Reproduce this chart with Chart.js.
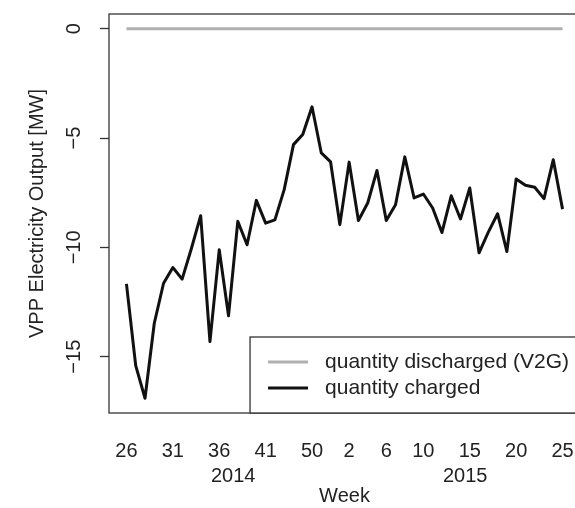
<!DOCTYPE html>
<html lang="en">
<head>
<meta charset="UTF-8">
<title>VPP Electricity Output</title>
<script src="https://cdn.jsdelivr.net/npm/chart.js"></script>
<style>
    body { margin: 0; overflow: hidden; background: #fff; }
    #wrap { width: 575px; height: 508px; overflow: hidden; }
    canvas { display: block; }
</style>
</head>
<body>
<div id="wrap"><canvas id="grafico" width="600" height="508"></canvas></div>
<script>
// week numbers, 2014 wk 26 .. 2015 wk 25 (some autumn weeks missing)
const weeks = [26, 27, 28, 29, 30, 31, 32, 33, 34, 35, 36, 37, 38, 39, 40, 41,
               42, 44, 46, 48, 50, 51, 52,
               1, 2, 3, 4, 5, 6, 7, 8, 9, 10, 11, 12, 13, 14, 15, 16, 17, 18, 19, 20, 21, 22, 23, 24, 25];
const charged = [-11.67, -15.41, -16.90, -13.47, -11.64, -10.92, -11.45, -10.05, -8.55, -14.31,
                 -10.11, -13.13, -8.81, -9.88, -7.85, -8.89, -8.74, -7.36, -5.30, -4.84,
                 -3.57, -5.68, -6.09, -8.96, -6.10, -8.77, -7.97, -6.48, -8.77, -8.05,
                 -5.86, -7.74, -7.56, -8.20, -9.32, -7.64, -8.70, -7.28, -10.25, -9.30,
                 -8.46, -10.19, -6.87, -7.16, -7.25, -7.77, -5.99, -8.25];
const discharged = [0, 0, 0, 0, 0, 0, 0, 0, 0, 0, 0, 0, 0, 0, 0, 0, 0, 0, 0, 0, 0, 0, 0, 0,
                    0, 0, 0, 0, 0, 0, 0, 0, 0, 0, 0, 0, 0, 0, 0, 0, 0, 0, 0, 0, 0, 0, 0, 0];
// which weeks get a label on the x axis (index into weeks)
const weekTicks = [0, 5, 10, 15, 20, 24, 28, 32, 37, 42, 47];
const yearLabels = ['2014', '2015'];
const yearTickAt = [11.5, 36.5];
const yTicks = [0, -5, -10, -15];

const FONT = '"Liberation Sans", Arial, sans-serif';
const txt = { family: FONT, size: 20 };

const pts = arr => arr.map((v, i) => ({ x: i, y: v }));
const n = weeks.length - 1;
const yLo = Math.min(...charged), yHi = 0;
const yPad = (yHi - yLo) * 0.04;

// box round the plot, like R
const boxPlugin = {
    id: 'box',
    afterDatasetsDraw(chart) {
        const { ctx, chartArea: a } = chart;
        ctx.save();
        ctx.strokeStyle = '#333';
        ctx.lineWidth = 1.3;
        ctx.strokeRect(a.left, a.top, a.width, a.height);
        ctx.restore();
    }
};

// legend in the bottom right corner
const legendPlugin = {
    id: 'rLegend',
    afterDraw(chart) {
        const { ctx, chartArea: a } = chart;
        const sets = chart.data.datasets;
        ctx.save();
        ctx.font = '21px ' + FONT;
        const textW = Math.max(...sets.map(d => ctx.measureText(d.label).width));
        const rowH = 26;
        const w = textW + 86, h = rowH * sets.length + 24;
        const x0 = a.right - w, y0 = a.bottom - h;
        ctx.fillStyle = '#fff';
        ctx.fillRect(x0, y0, w, h);
        ctx.strokeStyle = '#333';
        ctx.lineWidth = 1.3;
        ctx.strokeRect(x0, y0, w, h);
        sets.forEach((d, k) => {
            const y = y0 + 25 + k * rowH;
            ctx.strokeStyle = d.borderColor;
            ctx.lineWidth = d.borderWidth;
            ctx.beginPath();
            ctx.moveTo(x0 + 18, y);
            ctx.lineTo(x0 + 58, y);
            ctx.stroke();
            ctx.fillStyle = '#222';
            ctx.textBaseline = 'middle';
            ctx.fillText(d.label, x0 + 75, y);
        });
        ctx.restore();
    }
};

new Chart(document.getElementById('grafico').getContext('2d'), {
    type: 'line',
    data: {
        datasets: [{
            label: 'quantity discharged (V2G)',
            data: pts(discharged),
            borderColor: '#b0b0b0',
            borderWidth: 3,
            pointRadius: 0,
            tension: 0
        }, {
            label: 'quantity charged',
            data: pts(charged),
            borderColor: '#111',
            borderWidth: 3,
            pointRadius: 0,
            tension: 0,
            borderJoinStyle: 'round'
        }]
    },
    options: {
        responsive: false,
        animation: false,
        layout: { padding: { top: 14, right: 20, left: 0, bottom: 0 } },
        plugins: { legend: { display: false }, tooltip: { enabled: false } },
        scales: {
            x: {
                type: 'linear',
                min: -0.04 * n,
                max: n * 1.04,
                afterBuildTicks: s => {
                    s.ticks = weekTicks.map(v => ({ value: v })).concat(yearTickAt.map(v => ({ value: v })));
                },
                afterFit: s => { s.height = 95; s.paddingLeft = 0; s.paddingRight = 0; },
                grid: { display: false, drawTicks: false },
                border: { display: false },
                ticks: {
                    autoSkip: false, maxRotation: 0, minRotation: 0, padding: 26,
                    color: '#222', font: { family: FONT, size: 20, lineHeight: 1.25 },
                    callback: v => {
                        if (weekTicks.indexOf(v) >= 0) return String(weeks[v]);
                        const j = yearTickAt.indexOf(v);
                        return j >= 0 ? ['', yearLabels[j]] : '';
                    }
                },
                title: { display: true, text: 'Week', color: '#222', font: txt, padding: { top: 0, bottom: 0 } }
            },
            y: {
                min: yLo - yPad,
                max: yHi + yPad,
                afterBuildTicks: s => { s.ticks = yTicks.map(v => ({ value: v })); },
                afterFit: s => { s.width = 109; s.paddingTop = 0; s.paddingBottom = 0; },
                grid: { drawOnChartArea: false, drawTicks: true, tickLength: 9, tickColor: '#333', tickWidth: 1.3 },
                border: { display: false },
                ticks: {
                    minRotation: 90, maxRotation: 90, crossAlign: 'center', padding: 9,
                    color: '#222', font: txt,
                    callback: v => v === 0 ? '0' : '\u2212' + Math.abs(v)
                },
                title: { display: true, text: 'VPP Electricity Output [MW]', color: '#222', font: txt, padding: { top: 25, bottom: 0 } }
            }
        }
    },
    plugins: [boxPlugin, legendPlugin]
});
</script>
</body>
</html>
